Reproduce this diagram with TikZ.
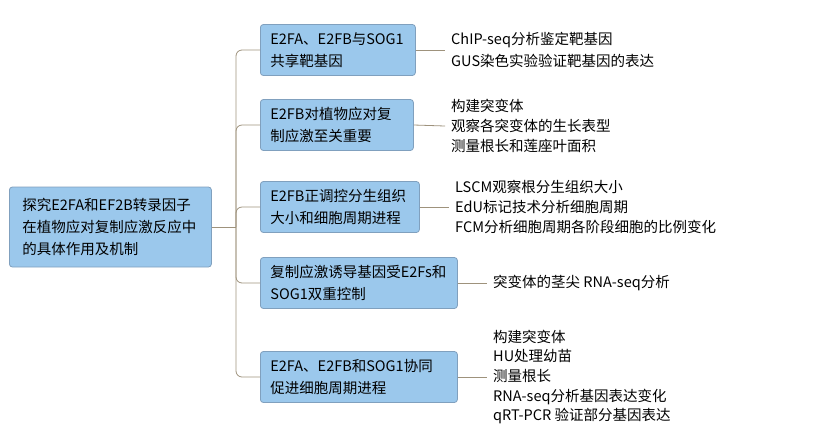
\documentclass[tikz,border=0pt]{standalone}
\usepackage{fontspec}
\setmainfont{Noto Sans CJK SC}
\usetikzlibrary{positioning}

\definecolor{kastenblau}{RGB}{155,200,236}
\definecolor{kastenrand}{RGB}{128,160,190}
\definecolor{linienbraun}{RGB}{158,146,124}

\begin{document}
\begin{tikzpicture}[x=1pt,y=-1pt,
    kasten/.style={
      draw=kastenrand,
      fill=kastenblau,
      rounded corners=3pt,
      line width=.8pt,
      anchor=west,
      align=left,
      minimum height=51pt,
      inner xsep=10pt,
      font=\fontsize{14.5}{22}\selectfont},
    notiz/.style={
      anchor=west,
      align=left,
      inner xsep=6pt,
      font=\fontsize{14.5}{20}\selectfont},
    linie/.style={
      draw=linienbraun,
      line width=.8pt}
    ]

  \useasboundingbox (0,0) rectangle (834,432);

  \node at (9,227) (wurzel) [kasten, minimum height=80pt, inner xsep=13pt, text width=176pt] {探究E2FA和EF2B转录因子\\在植物应对复制应激反应中\\的具体作用及机制};

  \node at (260,50) (knoten1) [kasten, text width=135pt] {E2FA、E2FB与SOG1\\共享靶基因};
  \node at (260,125) (knoten2) [kasten, text width=133pt] {E2FB对植物应对复\\制应激至关重要};
  \node at (260,207) (knoten3) [kasten, text width=139pt] {E2FB正调控分生组织\\大小和细胞周期进程};
  \node at (260,283) (knoten4) [kasten, text width=177pt] {复制应激诱导基因受E2Fs和\\SOG1双重控制};
  \node at (260,377) (knoten5) [kasten, text width=177pt] {E2FA、E2FB和SOG1协同\\促进细胞周期进程};

  \node at (445,50) (notiz1) [notiz, font=\fontsize{14.5}{22}\selectfont] {ChIP-seq分析鉴定靶基因\\GUS染色实验验证靶基因的表达};
  \node at (445,126) (notiz2) [notiz] {构建突变体\\观察各突变体的生长表型\\测量根长和莲座叶面积};
  \node at (449,207) (notiz3) [notiz] {LSCM观察根分生组织大小\\EdU标记技术分析细胞周期\\FCM分析细胞周期各阶段细胞的比例变化};
  \node at (487,283) (notiz4) [notiz] {突变体的茎尖 RNA-seq分析};
  \node at (487,377) (notiz5) [notiz, font=\fontsize{14.5}{19.7}\selectfont] {构建突变体\\HU处理幼苗\\测量根长\\RNA-seq分析基因表达变化\\qRT-PCR 验证部分基因表达};

  \coordinate (stamm) at (236,227);

  \draw[linie] (wurzel.east) -- (stamm);
  \foreach \k in {1,...,5}
    \draw[linie, rounded corners=6pt] (stamm) |- (knoten\k.west);

  \path[linie]
        (knoten1.east) edge (notiz1.west)
        (knoten2.east) edge (notiz2.west)
        (knoten3.east) edge (notiz3.west)
        (knoten4.east) edge (notiz4.west)
        (knoten5.east) edge (notiz5.west)
   ;

\end{tikzpicture}
\end{document}
